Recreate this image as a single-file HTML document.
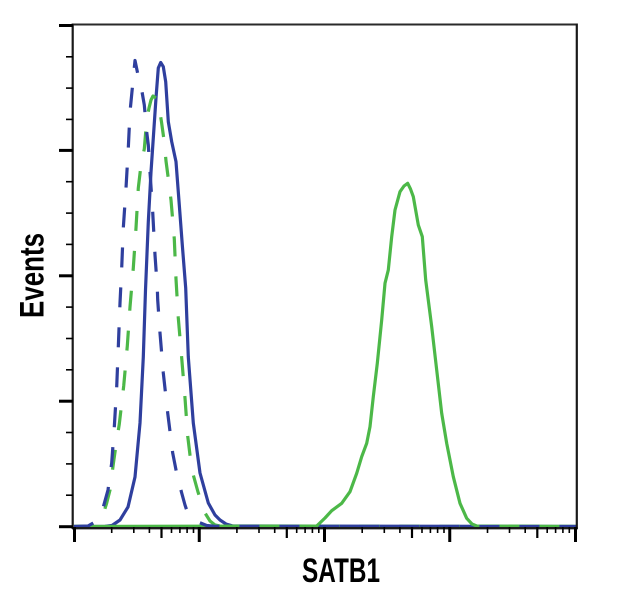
<!DOCTYPE html>
<html>
<head>
<meta charset="utf-8">
<style>
  html, body { margin: 0; padding: 0; background: #ffffff; }
  body { width: 637px; height: 601px; overflow: hidden; }
  svg { display: block; }
  text { font-family: "Liberation Sans", Arial, sans-serif; font-weight: bold; fill: #000; }
</style>
</head>
<body>
<svg width="637" height="601" viewBox="0 0 637 601" xmlns="http://www.w3.org/2000/svg">
  <rect x="0" y="0" width="637" height="601" fill="#ffffff"/>

  <!-- curves -->
  <g fill="none" stroke-linejoin="round" stroke-linecap="butt" stroke-width="3.2">
    <!-- blue solid -->
    <polyline stroke="#2f3f9e" points="74,526.5 105,526.3 112,525.5 120,520 128,507 135,477 140,423 143.3,357 145.5,290 148.3,222 151,172 153.3,138 156,98 158.3,68 160.7,62.5 163.3,66.7 165.7,81.7 168.3,121.7 171.7,141.7 176,161.7 179.3,205 182.3,245 185.7,288 188.3,357 193.3,423 200,473 208.3,503 215,515 220,520 226,524 233,526 576,526.5"/>
    <!-- green solid -->
    <polyline stroke="#4cb848" points="74,526.5 316.7,526 325,518 331.7,510.7 341.7,503.3 350,491.7 356.7,473.3 361.7,456.7 366.7,443.3 370,426.7 373.3,396.7 377.3,363.3 381.7,320 385,283.3 388.3,270 391.7,236.7 395,210 400,191.7 404,186 407.7,183.3 410.5,189 413.3,196.7 418.3,225 422.3,236.7 425.7,280 431.7,326.7 436.7,370 441.7,413.3 446.7,443.3 453.3,476.7 460,503.3 466.7,518.3 472,524 476.7,526 576,526.5"/>
    <!-- green dashed -->
    <polyline stroke="#4cb848" stroke-dasharray="20 20" points="74,526.5 90,526 98,522 103,515 106.7,503 110,490 113.3,464 116,445 119.3,424 123.7,386 127.3,346 130,307 133.3,268 136,228 138.3,188 141,165 144.3,149 146.7,120 149,108 151,100 153,96 156,98 159,106 161.5,122 164,140 166,161 168.5,180 171,200 174.3,239 176,279 178.3,318 181.7,358 185,398 187.7,436 190,455 193.3,475 198,492 205,513 210,521 215,525 222,526.3 576,526.5"/>
    <!-- blue dashed -->
    <polyline stroke="#2f3f9e" stroke-dasharray="20 20" points="74,526.5 88,526 95,522 100,514 103.3,507 108,490 111.7,463 114.3,427 116.7,387 118.3,347 120,303 121.7,268 123.3,228 126,188 128.3,148 130,112 133.3,78 135,60.5 138,75 141.7,90 144.3,105 146.7,132 148.3,145 150,172 152.7,212 155,255 157.3,288 157.7,300 160,333 163.3,373 167.7,413 172.7,453 177,475 181.7,493 185,505 188,514 193,518 198,522 206.7,525.5 215,526.3 576,526.5"/>
  </g>

  <!-- frame -->
  <g stroke="#1a1a1a" fill="none">
    <line x1="72" y1="24.5" x2="577.5" y2="24.5" stroke-width="2" stroke="#2a2a2a"/>
    <line x1="576.8" y1="23.5" x2="576.8" y2="529" stroke-width="2.2"/>
    <line x1="72.7" y1="23.5" x2="72.7" y2="529" stroke-width="2.2"/>
    <line x1="72" y1="528.2" x2="577.8" y2="528.2" stroke-width="2.4"/>
  </g>

  <!-- y ticks -->
  <g stroke="#000">
    <g stroke-width="3">
      <line x1="59" y1="25.5" x2="73" y2="25.5"/>
      <line x1="59" y1="150.4" x2="73" y2="150.4"/>
      <line x1="59" y1="275.8" x2="73" y2="275.8"/>
      <line x1="59" y1="401.2" x2="73" y2="401.2"/>
      <line x1="59" y1="526.7" x2="73" y2="526.7"/>
    </g>
    <g stroke-width="1.6">
      <line x1="66" y1="56.8" x2="73" y2="56.8"/>
      <line x1="66" y1="88.1" x2="73" y2="88.1"/>
      <line x1="66" y1="119.4" x2="73" y2="119.4"/>
      <line x1="66" y1="181.7" x2="73" y2="181.7"/>
      <line x1="66" y1="213.1" x2="73" y2="213.1"/>
      <line x1="66" y1="244.4" x2="73" y2="244.4"/>
      <line x1="66" y1="307.1" x2="73" y2="307.1"/>
      <line x1="66" y1="338.5" x2="73" y2="338.5"/>
      <line x1="66" y1="369.8" x2="73" y2="369.8"/>
      <line x1="66" y1="432.5" x2="73" y2="432.5"/>
      <line x1="66" y1="463.9" x2="73" y2="463.9"/>
      <line x1="66" y1="495.2" x2="73" y2="495.2"/>
    </g>
  </g>

  <!-- x ticks -->
  <g stroke="#000">
    <g stroke-width="3">
      <line x1="74.5" y1="527" x2="74.5" y2="542"/>
      <line x1="199.25" y1="527" x2="199.25" y2="542"/>
      <line x1="324.5" y1="527" x2="324.5" y2="542"/>
      <line x1="449.75" y1="527" x2="449.75" y2="542"/>
      <line x1="575.5" y1="527" x2="575.5" y2="542"/>
    </g>
    <g stroke-width="2.2">
      <line x1="161.5" y1="527" x2="161.5" y2="538"/>
      <line x1="286.8" y1="527" x2="286.8" y2="538"/>
      <line x1="412" y1="527" x2="412" y2="538"/>
      <line x1="537.3" y1="527" x2="537.3" y2="538"/>
    </g>
    <g stroke-width="1.6">
      <line x1="111.7" y1="527" x2="111.7" y2="533"/>
      <line x1="133.8" y1="527" x2="133.8" y2="533"/>
      <line x1="149.4" y1="527" x2="149.4" y2="533"/>
      <line x1="171.5" y1="527" x2="171.5" y2="533"/>
      <line x1="179.9" y1="527" x2="179.9" y2="533"/>
      <line x1="187.1" y1="527" x2="187.1" y2="533"/>
      <line x1="193.5" y1="527" x2="193.5" y2="533"/>
      <line x1="236.9" y1="527" x2="236.9" y2="533"/>
      <line x1="259" y1="527" x2="259" y2="533"/>
      <line x1="274.7" y1="527" x2="274.7" y2="533"/>
      <line x1="296.7" y1="527" x2="296.7" y2="533"/>
      <line x1="305.1" y1="527" x2="305.1" y2="533"/>
      <line x1="312.4" y1="527" x2="312.4" y2="533"/>
      <line x1="318.8" y1="527" x2="318.8" y2="533"/>
      <line x1="362.2" y1="527" x2="362.2" y2="533"/>
      <line x1="384.3" y1="527" x2="384.3" y2="533"/>
      <line x1="399.9" y1="527" x2="399.9" y2="533"/>
      <line x1="422" y1="527" x2="422" y2="533"/>
      <line x1="430.4" y1="527" x2="430.4" y2="533"/>
      <line x1="437.6" y1="527" x2="437.6" y2="533"/>
      <line x1="444" y1="527" x2="444" y2="533"/>
      <line x1="487.5" y1="527" x2="487.5" y2="533"/>
      <line x1="509.5" y1="527" x2="509.5" y2="533"/>
      <line x1="525.2" y1="527" x2="525.2" y2="533"/>
      <line x1="547.2" y1="527" x2="547.2" y2="533"/>
      <line x1="555.6" y1="527" x2="555.6" y2="533"/>
      <line x1="562.9" y1="527" x2="562.9" y2="533"/>
      <line x1="569.3" y1="527" x2="569.3" y2="533"/>
    </g>
  </g>

  <!-- labels -->
  <text x="341" y="582" font-size="34" text-anchor="middle" textLength="78" lengthAdjust="spacingAndGlyphs">SATB1</text>
  <text transform="translate(43.5,275.5) rotate(-90)" x="0" y="0" font-size="34" text-anchor="middle" textLength="85" lengthAdjust="spacingAndGlyphs">Events</text>
</svg>
</body>
</html>
